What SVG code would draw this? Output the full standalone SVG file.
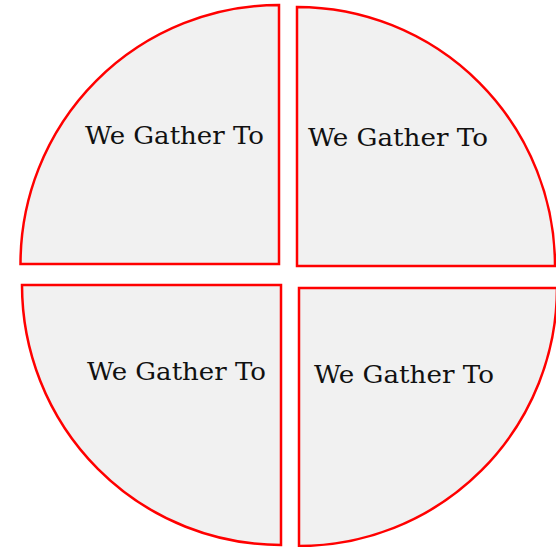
<svg xmlns="http://www.w3.org/2000/svg" width="556" height="547" viewBox="0 0 556 547">
<style>
.q{fill:#f1f1f1;stroke:#ff0000;stroke-width:2.5;stroke-linejoin:miter}
.t{font-family:"DejaVu Serif","Liberation Serif",serif;font-size:25px;fill:#111}
</style>
<rect width="556" height="547" fill="#ffffff"/>
<g id="q-tl"><path class="q" d="M279,264 H20.5 A258.5,259 0 0 1 279,5 Z"/><text class="t" x="85" y="144" textLength="179" lengthAdjust="spacingAndGlyphs">We Gather To</text></g>
<g id="q-tr"><path class="q" d="M297,266 V7 A258,259 0 0 1 555,266 Z"/><text class="t" x="308" y="146" textLength="180" lengthAdjust="spacingAndGlyphs">We Gather To</text></g>
<g id="q-bl"><path class="q" d="M281,285 H22 A259,260 0 0 0 281,545 Z"/><text class="t" x="87" y="380" textLength="179" lengthAdjust="spacingAndGlyphs">We Gather To</text></g>
<g id="q-br"><path class="q" d="M299,288 H557 A258,258 0 0 1 299,546 Z"/><text class="t" x="314" y="383" textLength="180" lengthAdjust="spacingAndGlyphs">We Gather To</text></g>
<g id="connectors"></g>
</svg>
